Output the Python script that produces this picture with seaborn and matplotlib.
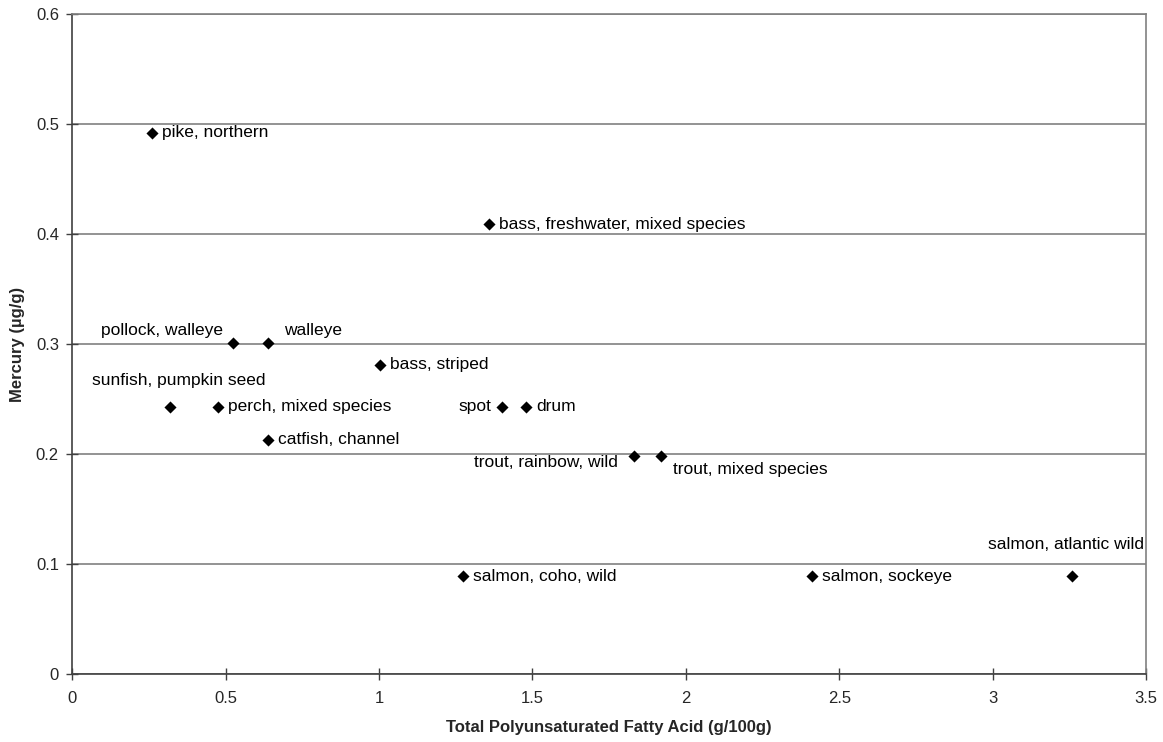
import numpy as np
import pandas as pd
import matplotlib
matplotlib.use("Agg")
import matplotlib.pyplot as plt
import seaborn as sns

# fish: total PUFA (g/100g) vs mercury (ug/g)
fish = ["pike, northern", "bass, freshwater, mixed species", "pollock, walleye",
        "walleye", "bass, striped", "sunfish, pumpkin seed", "perch, mixed species",
        "catfish, channel", "spot", "drum", "trout, rainbow, wild",
        "trout, mixed species", "salmon, coho, wild", "salmon, sockeye",
        "salmon, atlantic wild"]
pufa = [0.26, 1.36, 0.525, 0.64, 1.005, 0.32, 0.475, 0.64, 1.40, 1.48, 1.83,
        1.92, 1.275, 2.41, 3.26]
mercury = [0.492, 0.409, 0.301, 0.301, 0.281, 0.243, 0.243, 0.213, 0.243, 0.243,
           0.198, 0.198, 0.089, 0.089, 0.089]

# label placement: (dx, dy in pixels, ha)
offsets = {
    "pike, northern": (10, 0, "left"),
    "bass, freshwater, mixed species": (10, 0, "left"),
    "pollock, walleye": (-10, 12, "right"),
    "walleye": (16, 12, "left"),
    "bass, striped": (10, 0, "left"),
    "sunfish, pumpkin seed": (8, 26, "center"),
    "perch, mixed species": (10, 0, "left"),
    "catfish, channel": (10, 0, "left"),
    "spot": (-10, 0, "right"),
    "drum": (10, 0, "left"),
    "trout, rainbow, wild": (-16, -6, "right"),
    "trout, mixed species": (12, -13, "left"),
    "salmon, coho, wild": (10, 0, "left"),
    "salmon, sockeye": (10, 0, "left"),
    "salmon, atlantic wild": (-6, 32, "center"),
}

df = pd.DataFrame({"fish": fish, "pufa": pufa, "mercury": mercury})

sns.set_style("white")
plt.rcParams["font.family"] = ["Liberation Sans", "DejaVu Sans"]

fig = plt.figure(figsize=(11.63, 7.42), dpi=100)
ax = fig.add_axes([0.062, 0.0916, 0.9234, 0.8895])

ax.grid(axis="y", color="#808080", linewidth=1.2)
ax.set_axisbelow(True)
sns.scatterplot(data=df, x="pufa", y="mercury", marker="D", s=38, color="black",
                edgecolor="black", linewidth=0, ax=ax, zorder=3)

for name, x, y in zip(fish, pufa, mercury):
    dx, dy, ha = offsets[name]
    ax.annotate(name, (x, y), xytext=(dx, dy), textcoords="offset pixels",
                ha=ha, va="center", fontsize=12.5, color="black")

ax.set_xlim(0, 3.5)
ax.set_ylim(0, 0.6)
ax.set_xticks(np.arange(0, 3.51, 0.5))
ax.set_xticklabels(["0", "0.5", "1", "1.5", "2", "2.5", "3", "3.5"])
ax.set_yticks(np.arange(0, 0.61, 0.1))
ax.set_yticklabels(["0", "0.1", "0.2", "0.3", "0.4", "0.5", "0.6"])
ax.tick_params(axis="both", direction="inout", length=9, width=1, color="#404040",
               labelsize=12, bottom=True, left=True)
ax.tick_params(axis="x", pad=8)
ax.tick_params(axis="y", pad=5)

for side in ["left", "bottom"]:
    ax.spines[side].set_color("#404040")
    ax.spines[side].set_linewidth(1.2)
for side in ["top", "right"]:
    ax.spines[side].set_color("#808080")
    ax.spines[side].set_linewidth(1.2)

ax.set_xlabel("Total Polyunsaturated Fatty Acid (g/100g)", fontsize=12,
              fontweight="bold", labelpad=10)
ax.set_ylabel("Mercury (µg/g)", fontsize=12, fontweight="bold", labelpad=8)

fig.savefig("out.png", dpi=100)
